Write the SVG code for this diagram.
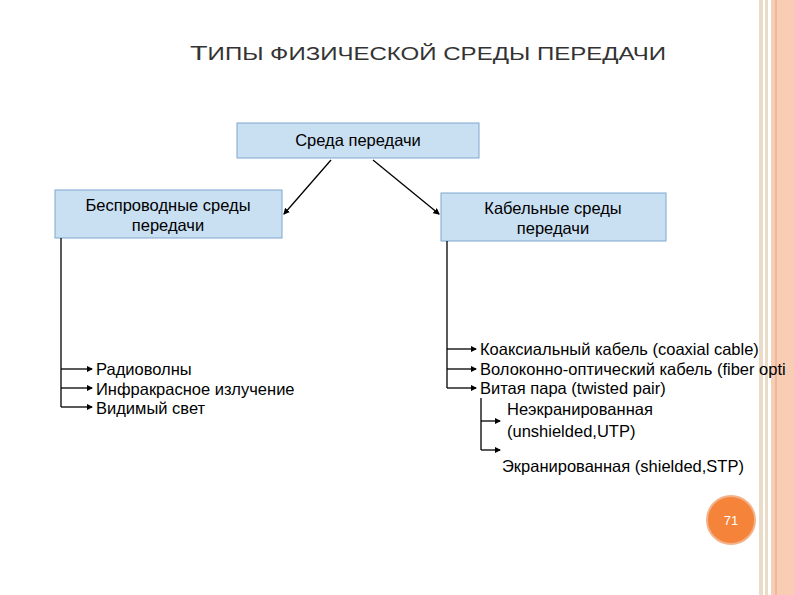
<svg xmlns="http://www.w3.org/2000/svg" width="794" height="595" viewBox="0 0 794 595">
<defs>
<style>
.t{font-family:"Liberation Sans",Arial,sans-serif;font-size:16.5px;fill:#000}
.box{fill:#c9dff2;stroke:#7fa7cf;stroke-width:1}
.c{stroke:#000;stroke-width:1.3;fill:none}
</style>
<marker id="a" viewBox="0 0 6 6" refX="5" refY="3" markerWidth="5" markerHeight="5" orient="auto"><path d="M0,0L6,3L0,6z" fill="#000"/></marker>
</defs>
<rect width="794" height="595" fill="#fff"/>
<rect x="759" y="0" width="4" height="595" fill="#eadcc8"/>
<rect x="765" y="0" width="3" height="595" fill="#eadcc8"/>
<rect x="771" y="0" width="23" height="595" fill="#f8cdb4"/>
<line x1="776" y1="0" x2="776" y2="595" stroke="#d9a88e" stroke-width="1"/>
<text x="190" y="60" font-family="Liberation Sans,Arial,sans-serif" font-size="17.5" fill="#333" textLength="476" lengthAdjust="spacingAndGlyphs"><tspan font-size="21">Т</tspan>ИПЫ ФИЗИЧЕСКОЙ СРЕДЫ ПЕРЕДАЧИ</text>
<g id="root"><rect class="box" x="237" y="123" width="242" height="35"/><text class="t" x="358" y="146" text-anchor="middle">Среда передачи</text></g>
<g id="wireless"><rect class="box" x="55" y="190" width="227" height="48"/><text class="t" x="168" y="211" text-anchor="middle">Беспроводные среды</text><text class="t" x="168" y="231" text-anchor="middle">передачи</text></g>
<g id="cable"><rect class="box" x="441" y="193" width="225" height="48"/><text class="t" x="553" y="214" text-anchor="middle">Кабельные среды</text><text class="t" x="553" y="234" text-anchor="middle">передачи</text></g>
<g id="connectors">
<line class="c" x1="331" y1="160" x2="284" y2="214" marker-end="url(#a)"/>
<line class="c" x1="373" y1="160" x2="439" y2="214" marker-end="url(#a)"/>
<path class="c" d="M61,238V407"/>
<path class="c" d="M61,369H92" marker-end="url(#a)"/><path class="c" d="M61,388H92" marker-end="url(#a)"/><path class="c" d="M61,407H92" marker-end="url(#a)"/>
<path class="c" d="M447,241V388"/>
<path class="c" d="M447,349H476" marker-end="url(#a)"/><path class="c" d="M447,369H476" marker-end="url(#a)"/><path class="c" d="M447,388H476" marker-end="url(#a)"/>
<path class="c" d="M481,398V450"/>
<path class="c" d="M481,421H500" marker-end="url(#a)"/><path class="c" d="M481,450H500" marker-end="url(#a)"/>
</g>
<g id="wl-items"><text class="t" x="96" y="375">Радиоволны</text><text class="t" x="96" y="395">Инфракрасное излучение</text><text class="t" x="96" y="414">Видимый свет</text></g>
<g id="cb-items"><text class="t" x="480" y="355">Коаксиальный кабель (coaxial cable)</text><text class="t" x="480" y="375">Волоконно-оптический кабель (fiber opti</text><text class="t" x="480" y="394">Витая пара (twisted pair)</text>
<text class="t" x="507" y="415">Неэкранированная</text><text class="t" x="507" y="437">(unshielded,UTP)</text><text class="t" x="502" y="472">Экранированная (shielded,STP)</text></g>
<g id="page"><circle cx="731" cy="520" r="24" fill="#f5843a" stroke="#f2b38a" stroke-width="2"/><text x="731" y="525" text-anchor="middle" font-family="Liberation Sans,Arial,sans-serif" font-size="13" fill="#fff">71</text></g>
</svg>
